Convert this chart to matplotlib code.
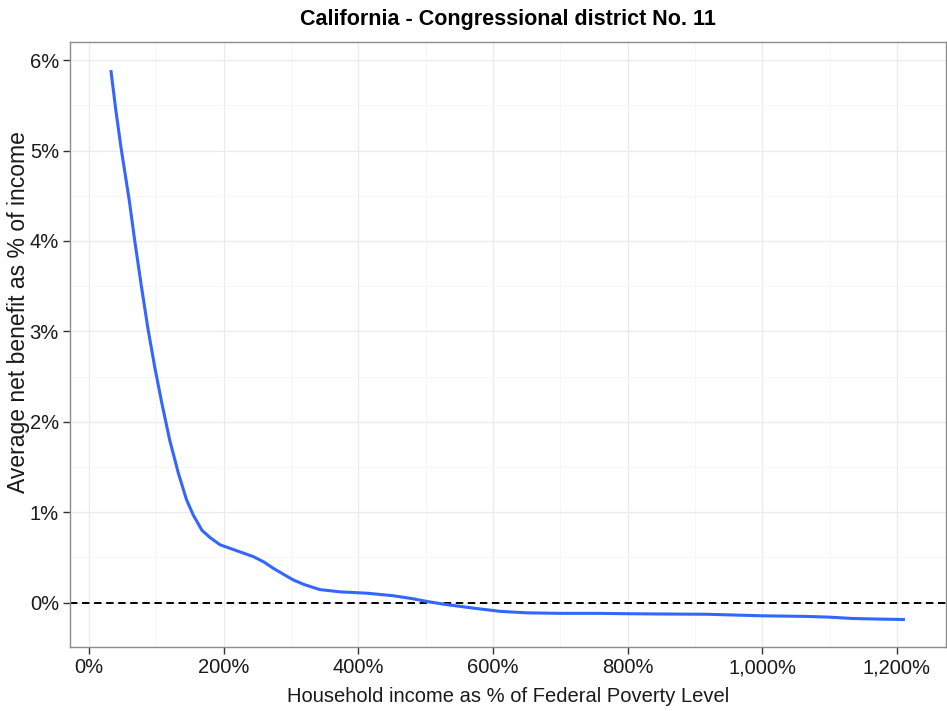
import matplotlib
matplotlib.use("Agg")
import matplotlib.pyplot as plt
from matplotlib.ticker import FuncFormatter, MultipleLocator

plt.rcParams['font.family'] = ['Liberation Sans', 'DejaVu Sans']

title = "California - Congressional district No. 11"
xlabel = "Household income as % of Federal Poverty Level"
ylabel = "Average net benefit as % of income"

fpl_pct = [32.7, 40, 48, 60, 68, 78, 88, 98, 108, 120, 133, 145, 155, 168, 180,
           195, 210, 229, 244, 260, 274, 290, 304, 320, 343, 373, 413, 452, 480,
           502, 530, 571, 611, 650, 700, 759, 800, 850, 918, 1000, 1066, 1100,
           1135, 1180, 1212]
net_benefit = [5.89, 5.45, 5.02, 4.45, 4.01, 3.50, 3.02, 2.60, 2.22, 1.80, 1.43,
               1.14, 0.97, 0.80, 0.72, 0.64, 0.60, 0.55, 0.51, 0.45, 0.38, 0.31,
               0.25, 0.20, 0.145, 0.12, 0.105, 0.077, 0.045, 0.014, -0.02, -0.06,
               -0.096, -0.112, -0.118, -0.118, -0.122, -0.125, -0.128, -0.145,
               -0.152, -0.16, -0.175, -0.182, -0.186]

x_ticks = [0, 200, 400, 600, 800, 1000, 1200]
y_ticks = [0, 1, 2, 3, 4, 5, 6]

fig = plt.figure(figsize=(9.47, 7.11), dpi=100)
ax = fig.add_axes([70/947, 1-647/711, (946-70)/947, (647-42)/711])

ax.set_xlim(-28, 1273)
ax.set_ylim(-0.49, 6.2)

ax.xaxis.set_minor_locator(MultipleLocator(100))
ax.yaxis.set_minor_locator(MultipleLocator(0.5))
ax.set_xticks(x_ticks)
ax.set_yticks(y_ticks)
ax.xaxis.set_major_formatter(FuncFormatter(lambda v, p: f"{int(round(v)):,}%"))
ax.yaxis.set_major_formatter(FuncFormatter(lambda v, p: f"{int(round(v))}%"))

ax.grid(which='major', color='#ebebeb', linewidth=0.9)
ax.grid(which='minor', color='#f5f5f5', linewidth=0.6)
ax.set_axisbelow(True)

ax.axhline(0, color='black', linewidth=1.4, linestyle=(0, (3.8, 2.4)), zorder=2)
ax.plot(fpl_pct, net_benefit, color='#3366FF', linewidth=2.2, zorder=3,
        solid_capstyle='butt')

for s in ax.spines.values():
    s.set_color('#8c8c8c')
    s.set_linewidth(1.0)

ax.tick_params(which='major', length=5, width=1, color='#333333',
               labelsize=14.5, labelcolor='#1a1a1a', pad=3)
ax.tick_params(which='minor', length=0)

ax.set_xlabel(xlabel, fontsize=14.5, color='#1a1a1a', labelpad=7)
fig.text(19/947, 1-312/711, ylabel, rotation=90, ha='center', va='center',
         fontsize=16.5, color='#1a1a1a')
fig.text((70+946)/2/947, 1-19/711, title, ha='center', va='center',
         fontsize=15.5, fontweight='bold')

fig.savefig("out.png", dpi=100)
